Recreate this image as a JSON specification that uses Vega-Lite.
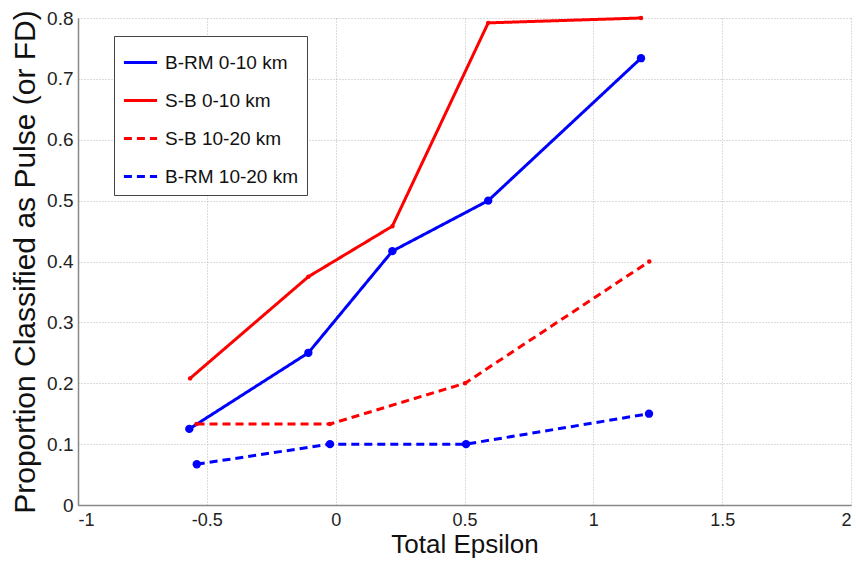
{
  "$schema": "https://vega.github.io/schema/vega-lite/v6.json",
  "autosize": {"type": "none"},
  "width": 773,
  "height": 487,
  "padding": {"left": 78, "top": 18, "right": 5, "bottom": 57},
  "background": "white",
  "config": {
    "font": "Liberation Sans",
    "view": {"stroke": null},
    "axis": {
      "domainColor": "#888888",
      "domainWidth": 1.5,
      "gridColor": "#b8b8b8",
      "gridDash": [1, 2],
      "gridWidth": 1,
      "ticks": false,
      "labelColor": "#222222",
      "titleColor": "#111111",
      "labelFont": "Liberation Sans",
      "titleFont": "Liberation Sans",
      "labelFontSize": 19,
      "titleFontWeight": "normal",
      "labelExpr": "replace(datum.label, '−', '-')"
    },
    "legend": {
      "labelFont": "Liberation Sans",
      "labelFontSize": 19,
      "labelColor": "#111111"
    }
  },
  "data": {
    "values": [
      {"series": "B-RM 0-10 km", "x": -0.568, "y": 0.125},
      {"series": "B-RM 0-10 km", "x": -0.106, "y": 0.25},
      {"series": "B-RM 0-10 km", "x": 0.22, "y": 0.417},
      {"series": "B-RM 0-10 km", "x": 0.592, "y": 0.5},
      {"series": "B-RM 0-10 km", "x": 1.185, "y": 0.734},
      {"series": "S-B 0-10 km", "x": -0.565, "y": 0.208},
      {"series": "S-B 0-10 km", "x": -0.106, "y": 0.375},
      {"series": "S-B 0-10 km", "x": 0.22, "y": 0.458},
      {"series": "S-B 0-10 km", "x": 0.592, "y": 0.792},
      {"series": "S-B 0-10 km", "x": 1.185, "y": 0.8},
      {"series": "S-B 10-20 km", "x": -0.54, "y": 0.133},
      {"series": "S-B 10-20 km", "x": -0.022, "y": 0.133},
      {"series": "S-B 10-20 km", "x": 0.502, "y": 0.2},
      {"series": "S-B 10-20 km", "x": 1.217, "y": 0.4},
      {"series": "B-RM 10-20 km", "x": -0.539, "y": 0.067},
      {"series": "B-RM 10-20 km", "x": -0.022, "y": 0.1},
      {"series": "B-RM 10-20 km", "x": 0.506, "y": 0.1},
      {"series": "B-RM 10-20 km", "x": 1.216, "y": 0.15}
    ]
  },
  "encoding": {
    "x": {
      "field": "x", "type": "quantitative",
      "scale": {"domain": [-1, 2], "nice": false, "zero": false},
      "axis": {"values": [-1, -0.5, 0, 0.5, 1, 1.5, 2], "format": "~g", "title": "Total Epsilon", "titleFontSize": 26, "labelFontSize": 18, "labelPadding": 6, "titlePadding": 2}
    },
    "y": {
      "field": "y", "type": "quantitative",
      "scale": {"domain": [0, 0.8], "nice": false},
      "axis": {"values": [0, 0.1, 0.2, 0.3, 0.4, 0.5, 0.6, 0.7, 0.8], "format": "~g", "title": "Proportion Classified as Pulse (or FD)", "titleFontSize": 30, "labelPadding": 5, "titlePadding": 6}
    }
  },
  "layer": [
    {
      "mark": {"type": "line", "strokeWidth": 3},
      "encoding": {
        "color": {
          "field": "series", "type": "nominal",
          "scale": {"domain": ["B-RM 0-10 km", "S-B 0-10 km", "S-B 10-20 km", "B-RM 10-20 km"], "range": ["#0000ff", "#ff0000", "#ff0000", "#0000ff"]},
          "legend": {
            "title": null,
            "orient": "none",
            "legendX": 36,
            "legendY": 18,
            "padding": 8,
            "strokeColor": "#444444",
            "fillColor": "white",
            "symbolType": "stroke",
            "symbolSize": 1100,
            "symbolStrokeWidth": 3,
            "labelOffset": 6,
            "rowPadding": 9
          }
        },
        "strokeDash": {
          "field": "series", "type": "nominal",
          "scale": {"domain": ["B-RM 0-10 km", "S-B 0-10 km", "S-B 10-20 km", "B-RM 10-20 km"], "range": [[1, 0], [1, 0], [8, 5], [8, 5]]},
          "legend": {
            "title": null,
            "orient": "none",
            "legendX": 36,
            "legendY": 18,
            "padding": 8,
            "strokeColor": "#444444",
            "fillColor": "white",
            "symbolType": "stroke",
            "symbolSize": 1100,
            "symbolStrokeWidth": 3,
            "labelOffset": 6,
            "rowPadding": 9
          }
        }
      }
    },
    {
      "transform": [{"filter": "indexof(datum.series, 'B-RM') == 0"}],
      "mark": {"type": "point", "filled": true, "opacity": 1, "shape": "circle", "color": "#0000ff", "size": 70}
    },
    {
      "transform": [{"filter": "indexof(datum.series, 'S-B') == 0"}],
      "mark": {"type": "point", "filled": true, "opacity": 1, "shape": "circle", "color": "#ff0000", "size": 20}
    }
  ]
}
